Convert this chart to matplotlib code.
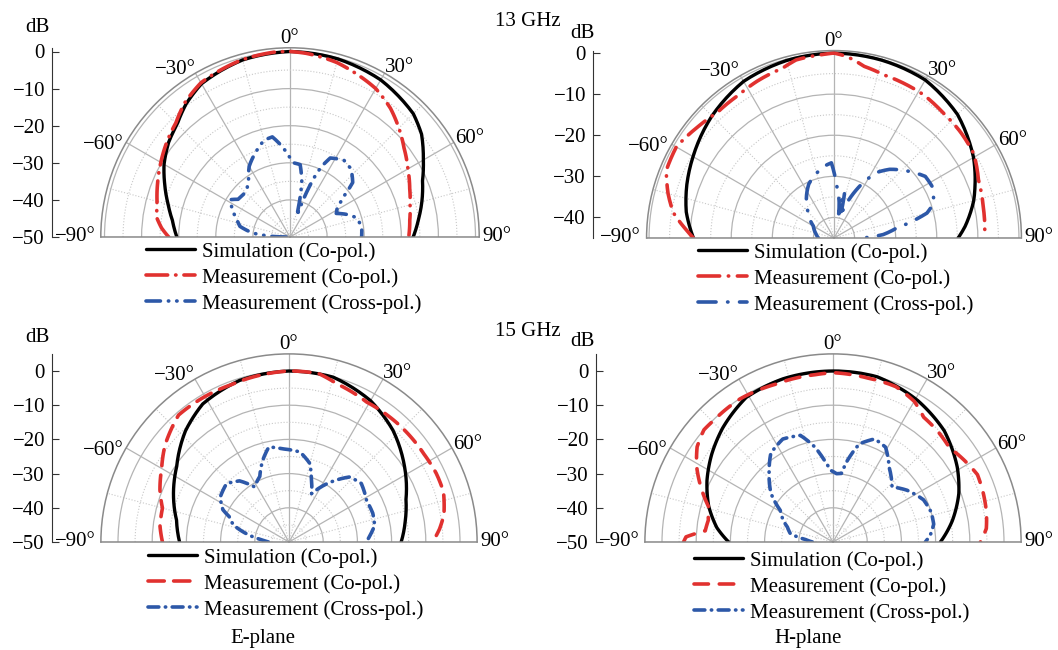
import matplotlib
matplotlib.use("Agg")
import matplotlib.pyplot as plt
import numpy as np
from matplotlib.ticker import FixedLocator

plt.rcParams['font.family'] = ['Liberation Serif', 'DejaVu Serif']
plt.rcParams['font.size'] = 15
plt.rcParams['axes.unicode_minus'] = True

W, H = 1058, 650

# ---- 13 GHz, E-plane ----
th13e_sim = [-90, -82, -75, -67, -60, -52, -45, -38, -30, -15, 0, 15, 30, 45, 52, 60, 67, 75, 82, 90]
db13e_sim = [-19.5, -18, -16, -13.3, -10.8, -8.5, -7, -4.5, -2.3, -0.6, 0, -0.3, -1.1, -3, -5, -8.5, -11.2, -13.2, -15, -16.8]
th13e_co = [-90, -86, -82, -75, -68, -60, -52, -45, -38, -30, -15, -5, 0, 5, 15, 22, 30, 38, 45, 52, 60, 68, 75, 82, 90]
db13e_co = [-17.3, -15.3, -13.8, -12.9, -11.5, -9.8, -8, -6.5, -4, -2, -0.5, 0, 0, -0.3, -1.3, -2.5, -3.8, -6, -8.5, -11, -13.3, -15.2, -16.5, -17.4, -18]
th13e_x = [-90, -88, -84, -78, -72, -66, -58, -54, -48, -42, -36, -30, -24, -15, -10, -5, 0, 3, 8, 12,
           16, 18, 20, 22, 24, 27, 35, 42, 49, 53, 58, 63, 69, 74, 82, 90]
db13e_x = [-49, -45, -40, -36.2, -35, -33.2, -31, -32.7, -33, -32.7, -31, -28, -26, -23, -22.6, -25.5, -28.7, -30, -30.3, -34.7,
           -42, -44, -38, -32.9, -29.3, -26.1, -24.7, -25.4, -27.6, -32, -35, -36, -33.2, -31.3, -30.5, -30.7]

# ---- 13 GHz, H-plane ----
th13h_sim = [-90, -80, -70, -60, -45, -30, -15, 0, 15, 30, 45, 60, 70, 75, 80, 85, 90]
db13h_sim = [-10.8, -8.5, -6.9, -5.4, -3, -1, -0.3, 0, -0.2, -0.6, -2.5, -5.8, -8.5, -9.8, -11.4, -13, -14.8]
th13h_co = [-90, -87, -81, -75, -68, -60, -51, -43, -34, -26, -17, -12, -4, 0, 4, 10, 17, 24, 32, 41, 50, 59, 68, 78, 88, 90]
db13h_co = [-10.8, -9.1, -5.4, -3.2, -1, -0.7, -2.2, -3.3, -3.2, -2.5, -1.85, -0.7, -0.3, 0, -0.7, -2.6, -3.5, -3.7, -3.9, -4.6, -4.85, -5.3, -7.1, -7.9, -8.3, -8.5]
th13h_x = [-90, -77, -60, -46, -34, -25, -18, -8, -2, 3, 8, 11, 13, 16, 20, 27, 33, 39, 47, 56, 63, 71, 75, 81, 86, 90]
db13h_x = [-41.2, -40.5, -39.2, -36.3, -33, -30.5, -29.2, -27.4, -26.7, -32.4, -36, -39, -33.3, -39.5, -36, -30.4, -26, -23.5, -21, -18.2, -18, -19.4, -21.6, -29.6, -33, -38]

# ---- 15 GHz, E-plane ----
th15e_sim = [-90, -79, -67, -56, -43, -32, -17, 0, 15, 30, 43, 57, 70, 80, 90]
db15e_sim = [-18, -16.5, -13.3, -10.4, -5.6, -2.4, -0.6, 0, -0.1, -2.3, -5.4, -9.7, -13.6, -15.5, -17.2]
th15e_co = [-90, -83, -75, -68, -60, -52, -41, -28, -20, -12, 0, 10, 17, 29, 43, 57, 65, 72, 80, 85, 90]
db15e_co = [-13, -12, -11.7, -9.3, -7, -4, -0.8, -0.9, -1, -0.6, 0, 0, -1.7, -3.2, -3, -2.9, -2.5, -2.5, -4, -5.8, -8]
th15e_x = [-90, -86, -79, -73, -67, -64, -57, -47, -39, -32, -24, -18, -12, -4, 7, 15, 19, 25, 33, 43, 51, 62, 71, 79, 86, 90]
db15e_x = [-44, -42.4, -37.3, -33, -31, -28.5, -26, -25, -27, -31, -29, -25, -21.6, -22.7, -23.5, -26.3, -30, -34.4, -29.7, -24, -22.8, -24.3, -24.1, -24.5, -26.4, -27.4]

# ---- 15 GHz, H-plane ----
th15h_sim = [-90, -83, -74, -64, -54, -44, -31, -17, 0, 15, 31, 45, 59, 69, 80, 90]
db15h_sim = [-19.5, -15.8, -12.2, -9, -6.2, -3.6, -0.7, -0.1, 0, 0, -1.8, -4, -7.6, -10.6, -14.6, -18.6]
th15h_co = [-90, -88, -85, -80, -74, -68, -61, -55, -49, -44, -33, -20, -6, 0, 12, 22, 30, 36, 44, 51, 57, 65, 72, 79, 85, 90]
db15h_co = [-6.3, -7, -12.5, -13, -12.1, -8.5, -4.4, -1.5, 0, -0.2, -0.1, -0.9, -0.8, -0.5, -1, -1, -2.5, -4.9, -5.5, -6.2, -5, -3.4, -3.8, -4.3, -5, -6.9]
th15h_x = [-90, -85, -79, -72, -66, -59, -52, -43, -35, -26, -17, -11, -6, -2, 3, 7, 10, 15, 22, 29, 37, 47, 55, 65, 73, 80, 86, 90]
db15h_x = [-44, -42, -37.3, -36, -34, -32, -27, -22.6, -18.3, -16.5, -17.4, -21.6, -26, -29, -30, -29.8, -25.8, -20.3, -17.5, -18.3, -22.7, -26.4, -23.6, -20.8, -20, -20.1, -21.5, -23]

theta_ticks = [-90, -60, -30, 0, 30, 60, 90]
theta_minor = [-75, -45, -15, 15, 45, 75]
labels = ["Simulation (Co-pol.)", "Measurement (Co-pol.)", "Measurement (Cross-pol.)"]

# how each angle label sits against the end of its spoke
theta_lab = {-90: ('right', 'center', (-4, 0)), -60: ('right', 'center', (-2, -1.5)),
             -30: ('right', 'bottom', (0, -4)), 0: ('center', 'bottom', (0, 0)),
             30: ('left', 'bottom', (0, -3)), 60: ('left', 'center', (1, 2.5)),
             90: ('left', 'center', (2, 0))}

RED = '#e1312f'
BLUE = '#2d58a8'
GRID = '#b4b4b4'
LW = 2.6

fig = plt.figure(figsize=(W / 100, H / 100), dpi=100)


def fbox(x0, y0, x1, y1):
    return [x0 / W, 1 - y1 / H, (x1 - x0) / W, (y1 - y0) / H]


def fmt(t, deg=False):
    s = f"{t}°" if deg else f"{t}"
    return s.replace('-', '\u2212')


def panel(cx, cy, scale, rmin, rmax, spine_x, dbx, dby, leg, curves, styles, dbticks):
    R = (rmax - rmin) * scale
    # polar axes keep a square box; the half disc sits in its middle band
    ax = fig.add_axes(fbox(cx - R, cy - 1.5 * R, cx + R, cy + 0.5 * R), projection='polar')
    ax.set_theta_zero_location('N')
    ax.set_theta_direction(-1)
    ax.set_thetamin(-90)
    ax.set_thetamax(90)
    ax.set_rorigin(rmin)
    ax.set_rlim(rmin, rmax)
    ax.set_xticks(np.deg2rad(theta_ticks))
    ax.set_xticklabels([])
    ax.xaxis.set_minor_locator(FixedLocator(np.deg2rad(theta_minor)))
    rings = [r for r in range(-40, 1, 10) if r > rmin]
    ax.set_yticks(rings)
    ax.yaxis.set_minor_locator(FixedLocator([r for r in np.arange(-45, 0, 10) if r > rmin]))
    ax.set_yticklabels([])
    ax.tick_params(axis='y', which='both', length=0)
    ax.tick_params(axis='x', which='both', direction='in', length=5, color=GRID)
    ax.grid(which='major', color=GRID, lw=0.9, ls='-')
    ax.grid(which='minor', color='#c8c8c8', lw=0.8, ls=':')
    for s in ax.spines.values():
        s.set_color('#8a8a8a')
        s.set_linewidth(1.1)
    for t in theta_ticks:
        ha, va, off = theta_lab[t]
        ax.annotate(fmt(t, True), (np.deg2rad(t), rmax), xytext=off, textcoords='offset points',
                    ha=ha, va=va, annotation_clip=False)

    for (th, db), (col, ls) in zip(curves, styles):
        line, = ax.plot(np.deg2rad(th), db, color=col, lw=LW if col != 'black' else 2.4,
                        ls=ls, dash_capstyle='round', solid_capstyle='round')
        line.get_path()._interpolation_steps = 12
    ax.set_rlim(rmin, rmax)

    ax.legend(ax.lines, labels, loc='upper left', frameon=False,
              bbox_to_anchor=(leg[0] / W, 1 - leg[1] / H), bbox_transform=fig.transFigure,
              borderaxespad=0, borderpad=0, handlelength=2.35, handletextpad=0.35,
              labelspacing=0.3)

    cax = fig.add_axes(fbox(spine_x, cy - R, spine_x + 1, cy))
    cax.set_ylim(rmin, rmax)
    cax.set_xticks([])
    cax.set_yticks(dbticks)
    cax.set_yticklabels([fmt(t) for t in dbticks])
    for k in ['top', 'right', 'bottom']:
        cax.spines[k].set_visible(False)
    cax.spines['left'].set_color('#333333')
    cax.patch.set_alpha(0)
    cax.tick_params(axis='y', direction='in', length=5, pad=5, color='#333333')
    fig.text(dbx / W, 1 - dby / H, "dB", ha='center', va='center')


panel(290, 237, 3.71, -50, 1.0, 52, 37, 28, (146, 242),
      [(th13e_sim, db13e_sim), (th13e_co, db13e_co), (th13e_x, db13e_x)],
      [('black', '-'), (RED, (0, (6, 2.2, 0.1, 2.2))), (BLUE, (0, (4, 2.2, 0.1, 2.2, 0.1, 2.2)))],
      [0, -10, -20, -30, -40, -50])
panel(834, 238, 4.11, -45, 0.6, 593, 582, 33, (698, 243),
      [(th13h_sim, db13h_sim), (th13h_co, db13h_co), (th13h_x, db13h_x)],
      [('black', '-'), (RED, (0, (6, 2.4, 0.1, 2.4))), (BLUE, (0, (5, 3.2, 0.1, 3.2)))],
      [0, -10, -20, -30, -40])
panel(289, 542, 3.42, -50, 5, 52, 37, 338, (148, 548),
      [(th15e_sim, db15e_sim), (th15e_co, db15e_co), (th15e_x, db15e_x)],
      [('black', '-'), (RED, (0, (4.5, 2.6))), (BLUE, (0, (3, 1.8, 0.1, 1.8)))],
      [0, -10, -20, -30, -40, -50])
panel(833, 542, 3.42, -50, 5, 596, 582, 342, (694, 551),
      [(th15h_sim, db15h_sim), (th15h_co, db15h_co), (th15h_x, db15h_x)],
      [('black', '-'), (RED, (0, (4, 3))), (BLUE, (0, (3, 1.8, 0.1, 1.8)))],
      [0, -10, -20, -30, -40, -50])

fig.text(528 / W, 1 - 22 / H, "13 GHz", ha='center', va='center')
fig.text(528 / W, 1 - 331 / H, "15 GHz", ha='center', va='center')
fig.text(263 / W, 1 - 638 / H, "E-plane", ha='center', va='center')
fig.text(808 / W, 1 - 638 / H, "H-plane", ha='center', va='center')

fig.savefig("out.png", dpi=100)
